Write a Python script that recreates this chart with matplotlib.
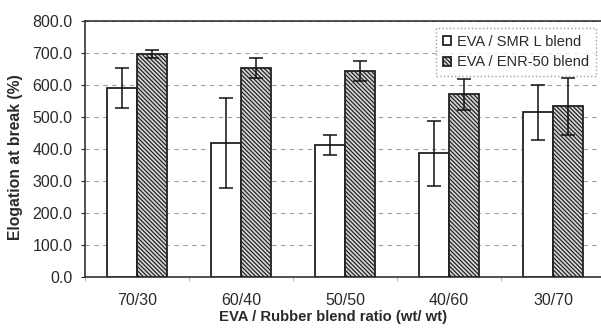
import numpy as np
import matplotlib.pyplot as plt

plt.rcParams['font.family'] = ['Liberation Sans', 'DejaVu Sans']
plt.rcParams['hatch.color'] = "#666666"
plt.rcParams['hatch.linewidth'] = 0.9

# Elongation at break for the two blend systems
ratios = ["70/30", "60/40", "50/50", "40/60", "30/70"]
smr_mean = [590, 418, 412, 387, 514]
smr_err = [63, 140, 31, 102, 87]
enr_mean = [697, 653, 643, 571, 534]
enr_err = [13, 32, 32, 48, 89]

fig = plt.figure(figsize=(6.01, 3.30), dpi=100)
ax = fig.add_axes([0.1414, 0.1597, 1.0067 - 0.1414, 0.937 - 0.1597])

x = np.arange(len(ratios))
w = 0.29
txt = "#2a2a2a"

ax.bar(x - w / 2, smr_mean, w, color="white", edgecolor="#222222",
       linewidth=1.3, label="EVA / SMR L blend", zorder=3)
ax.bar(x + w / 2, enr_mean, w, color="#d8d8d8", edgecolor="#222222",
       linewidth=1.3, hatch="\\" * 8, label="EVA / ENR-50 blend", zorder=3)

ax.errorbar(x - w / 2, smr_mean, yerr=smr_err, fmt="none", ecolor="#111111",
            elinewidth=1.1, capsize=5, capthick=1.1, zorder=4)
ax.errorbar(x + w / 2, enr_mean, yerr=enr_err, fmt="none", ecolor="#111111",
            elinewidth=1.1, capsize=5, capthick=1.1, zorder=4)

ax.set_xlim(-0.5, len(ratios) - 0.5)
ax.set_ylim(0, 800)
ax.set_yticks(np.arange(0, 801, 100))
ax.set_yticklabels([f"{v:.1f}" for v in range(0, 801, 100)])
ax.set_xticks(x)
ax.set_xticklabels(ratios)
ax.set_xticks(np.arange(-0.5, len(ratios), 1.0), minor=True)
ax.tick_params(axis="both", labelsize=11.5, colors=txt, length=3, width=0.8)
ax.tick_params(axis="y", pad=6)
ax.tick_params(axis="x", which="major", length=0, pad=11)
ax.tick_params(axis="x", which="minor", length=3, color="#aaaaaa")

ax.yaxis.grid(True, linestyle=(0, (4, 4)), color="#a0a0a0", linewidth=0.8)
ax.set_axisbelow(True)
for s in ax.spines.values():
    s.set_color("#333333")
    s.set_linewidth(1.2)

ax.set_xlabel("EVA / Rubber blend ratio (wt/ wt)", fontsize=10.7,
              fontweight="bold", color=txt)
ax.set_ylabel("Elogation at break (%)", fontsize=11.3, fontweight="bold",
              color=txt)
ax.xaxis.set_label_coords(0.477, -0.128)
ax.yaxis.set_label_coords(-0.119, 0.469)

leg = ax.legend(loc="upper right", bbox_to_anchor=(0.983, 0.971),
                borderaxespad=0, fontsize=10.5, frameon=True, fancybox=False,
                handlelength=0.55, handleheight=0.55, handletextpad=0.45,
                borderpad=0.45, labelspacing=0.45)
leg.get_frame().set_edgecolor("#888888")
leg.get_frame().set_linestyle(":")
leg.get_frame().set_linewidth(1.0)
for t in leg.get_texts():
    t.set_color(txt)

fig.savefig("out.png", dpi=100)
